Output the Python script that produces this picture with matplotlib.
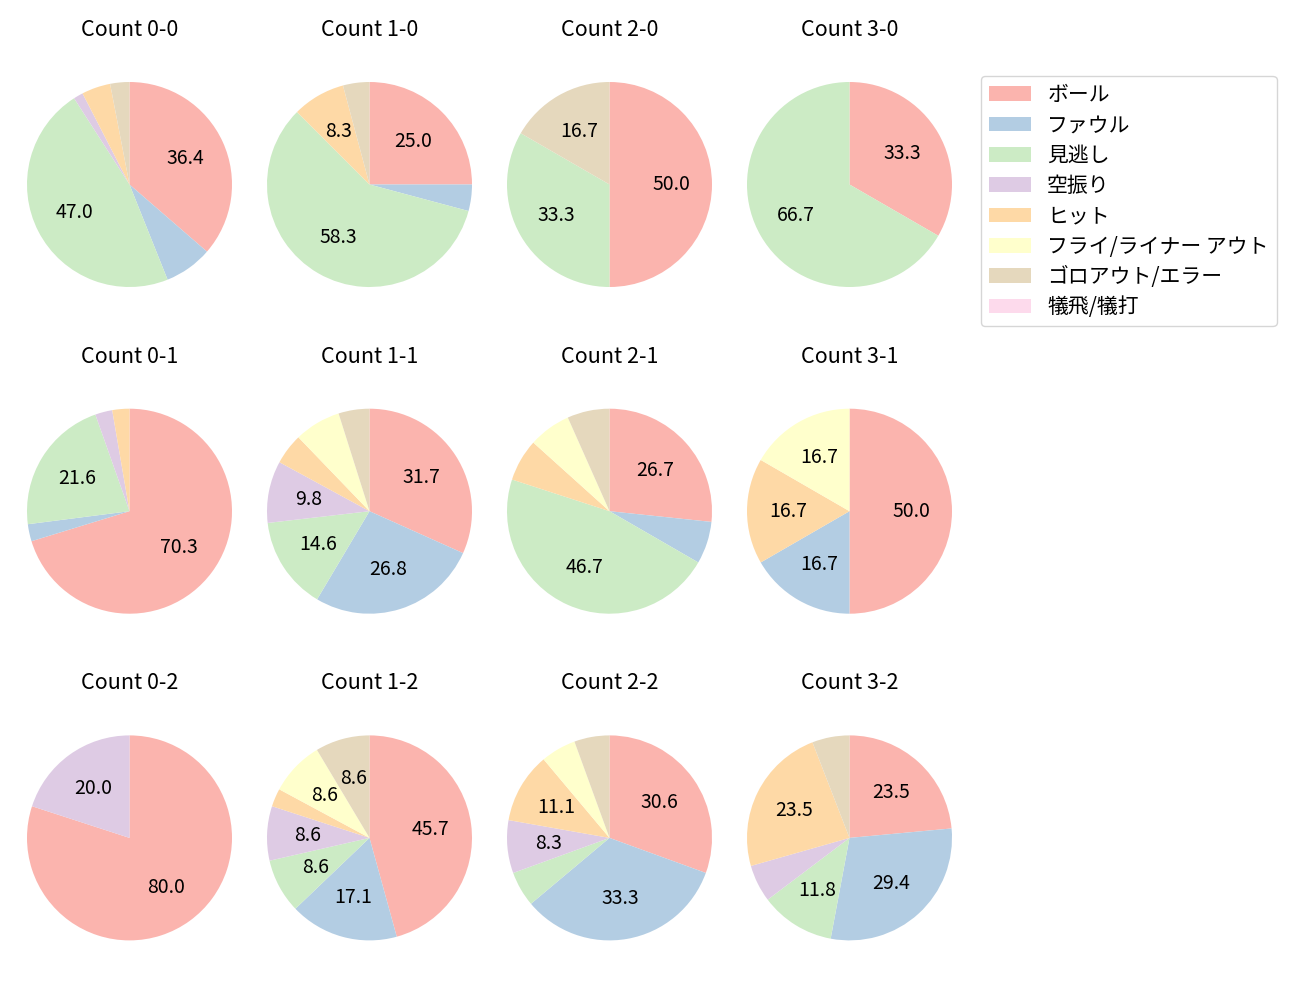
import matplotlib
matplotlib.use("Agg")
import matplotlib.pyplot as plt
from matplotlib.patches import Patch

plt.rcParams['font.family'] = ['Noto Sans CJK JP', 'DejaVu Sans']

categories = ['ボール', 'ファウル', '見逃し', '空振り', 'ヒット',
              'フライ/ライナー アウト', 'ゴロアウト/エラー', '犠飛/犠打']
colors = ['#fbb4ae', '#b3cde3', '#ccebc5', '#decbe4', '#fed9a6',
          '#ffffcc', '#e5d8bd', '#fddaec']

titles = ['Count 0-0', 'Count 1-0', 'Count 2-0', 'Count 3-0',
          'Count 0-1', 'Count 1-1', 'Count 2-1', 'Count 3-1',
          'Count 0-2', 'Count 1-2', 'Count 2-2', 'Count 3-2']

count_0_0 = [24, 5, 31, 1, 3, 0, 2, 0]
count_1_0 = [6, 1, 14, 0, 2, 0, 1, 0]
count_2_0 = [3, 0, 2, 0, 0, 0, 1, 0]
count_3_0 = [1, 0, 2, 0, 0, 0, 0, 0]
count_0_1 = [26, 1, 8, 1, 1, 0, 0, 0]
count_1_1 = [13, 11, 6, 4, 2, 3, 2, 0]
count_2_1 = [4, 1, 7, 0, 1, 1, 1, 0]
count_3_1 = [3, 1, 0, 0, 1, 1, 0, 0]
count_0_2 = [4, 0, 0, 1, 0, 0, 0, 0]
count_1_2 = [16, 6, 3, 3, 1, 3, 3, 0]
count_2_2 = [11, 12, 2, 3, 4, 2, 2, 0]
count_3_2 = [4, 5, 2, 1, 4, 0, 1, 0]

data = [count_0_0, count_1_0, count_2_0, count_3_0,
        count_0_1, count_1_1, count_2_1, count_3_1,
        count_0_2, count_1_2, count_2_2, count_3_2]

W, H = 1300, 1000
fig = plt.figure(figsize=(13, 10), dpi=100)

R = 102.5          # pie radius in px
half = 1.25 * R    # axes half-size in px
cxs = [129.5 + 240 * j for j in range(4)]
cys = [184.5 + 326.7 * i for i in range(3)]

def fmt(p):
    return f'{p:.1f}' if p > 8 else ''

for k, (vals, title) in enumerate(zip(data, titles)):
    i, j = divmod(k, 4)
    cx, cy = cxs[j], cys[i]
    ax = fig.add_axes([(cx - half) / W, 1 - (cy + half) / H, 2 * half / W, 2 * half / H])
    v = [x for x in vals if x > 0]
    c = [col for x, col in zip(vals, colors) if x > 0]
    ax.pie(v, colors=c, startangle=90, counterclock=False, autopct=fmt,
           pctdistance=0.6, textprops={'fontsize': 14})
    ax.set_xlim(-1.25, 1.25)
    ax.set_ylim(-1.25, 1.25)
    ax.set_aspect('equal')
    ax.text(0.5, 1 + 26.5 / (2 * half), title, transform=ax.transAxes,
            ha='center', va='center', fontsize=15.5)

handles = [Patch(facecolor=col, label=lab) for col, lab in zip(colors, categories)]
fig.legend(handles=handles, loc='upper left',
           bbox_to_anchor=(981 / W, 1 - 76 / H), bbox_transform=fig.transFigure,
           borderaxespad=0, fontsize=15, labelspacing=0.4, handlelength=2.0,
           handleheight=0.7, handletextpad=0.8, borderpad=0.38,
           edgecolor='#cccccc', fancybox=True)

fig.savefig('out.png', dpi=100)
